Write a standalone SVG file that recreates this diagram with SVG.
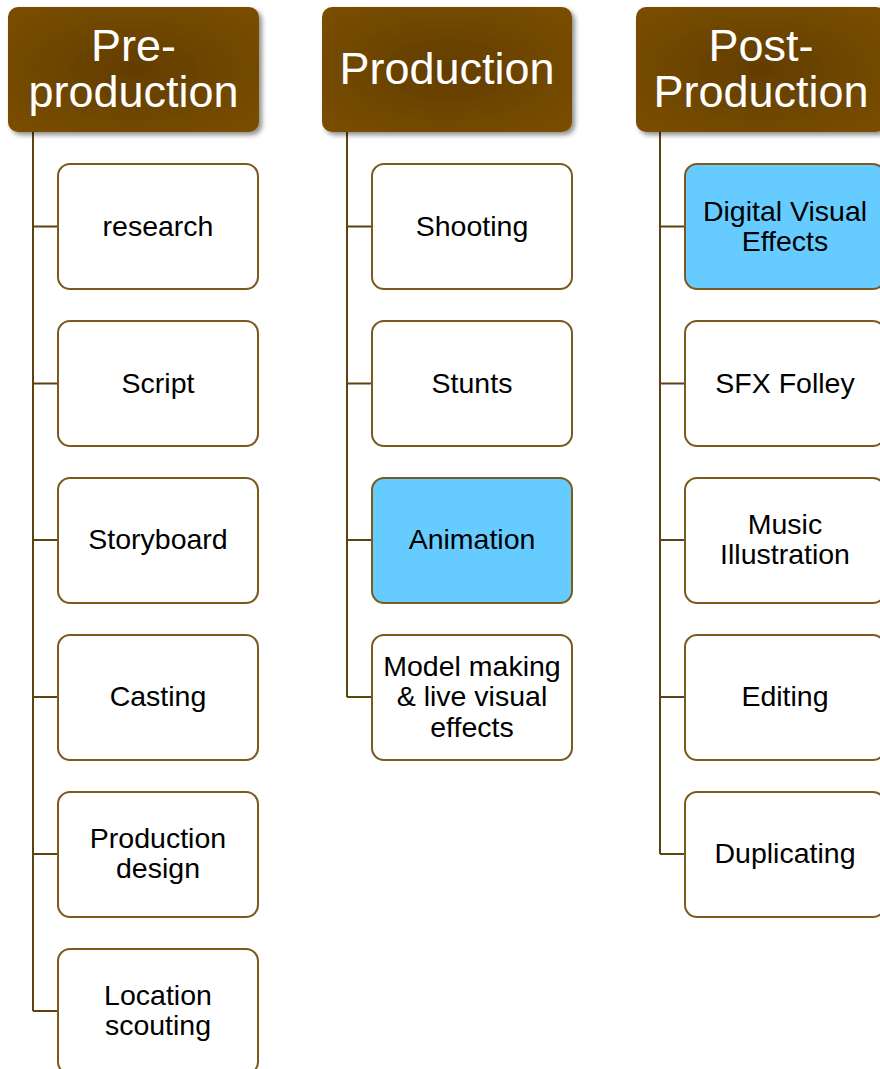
<svg xmlns="http://www.w3.org/2000/svg" width="880" height="1069" viewBox="0 0 880 1069">
  <defs>
    <radialGradient id="hdrFill" cx="0.5" cy="0.5" r="0.7">
      <stop offset="0" stop-color="#633d02"/>
      <stop offset="1" stop-color="#7b4f04"/>
    </radialGradient>
    <filter id="shadow" x="-10%" y="-10%" width="125%" height="130%">
      <feGaussianBlur in="SourceAlpha" stdDeviation="2.5"/>
      <feOffset dx="3" dy="3" result="b"/>
      <feComponentTransfer><feFuncA type="linear" slope="0.45"/></feComponentTransfer>
      <feMerge><feMergeNode/><feMergeNode in="SourceGraphic"/></feMerge>
    </filter>
    <style>
      .hdr { fill: url(#hdrFill); filter: url(#shadow); }
      .hdrText { font-family: "Liberation Sans", Arial, sans-serif; font-size: 45px; fill: #ffffff; text-anchor: middle; }
      .box { fill: #ffffff; stroke: #7a5a1e; stroke-width: 2; }
      .box.hi { fill: #66ccff; }
      .label { font-family: "Liberation Sans", Arial, sans-serif; font-size: 28.5px; fill: #000000; text-anchor: middle; }
      .conn { fill: none; stroke: #5e4212; stroke-width: 2; }
    </style>
  </defs>

  <rect width="880" height="1069" fill="#ffffff"/>

  <!-- connectors -->
  <g id="connectors">
    <path class="conn" d="M33,132 V1011 M33,226.5 H58 M33,383.5 H58 M33,540 H58 M33,697 H58 M33,854 H58 M33,1011 H58"/>
    <path class="conn" d="M347,132 V697 M347,226.5 H372 M347,383.5 H372 M347,540 H372 M347,697 H372"/>
    <path class="conn" d="M660,132 V854 M660,226.5 H685 M660,383.5 H685 M660,540 H685 M660,697 H685 M660,854 H685"/>
  </g>

  <!-- headers -->
  <g id="pre-production">
    <rect class="hdr" x="8" y="7" width="251" height="125" rx="10"/>
    <text class="hdrText" x="133.5" y="61">Pre-</text>
    <text class="hdrText" x="133.5" y="107">production</text>
  </g>
  <g id="production">
    <rect class="hdr" x="322" y="7" width="250" height="125" rx="10"/>
    <text class="hdrText" x="447" y="84">Production</text>
  </g>
  <g id="post-production">
    <rect class="hdr" x="636" y="7" width="250" height="125" rx="10"/>
    <text class="hdrText" x="761" y="61">Post-</text>
    <text class="hdrText" x="761" y="107">Production</text>
  </g>

  <!-- pre-production tasks -->
  <g id="research">
    <rect class="box" x="58" y="164" width="200" height="125" rx="12"/>
    <text class="label" x="158" y="236">research</text>
  </g>
  <g id="script">
    <rect class="box" x="58" y="321" width="200" height="125" rx="12"/>
    <text class="label" x="158" y="393">Script</text>
  </g>
  <g id="storyboard">
    <rect class="box" x="58" y="478" width="200" height="125" rx="12"/>
    <text class="label" x="158" y="549">Storyboard</text>
  </g>
  <g id="casting">
    <rect class="box" x="58" y="635" width="200" height="125" rx="12"/>
    <text class="label" x="158" y="706">Casting</text>
  </g>
  <g id="production-design">
    <rect class="box" x="58" y="792" width="200" height="125" rx="12"/>
    <text class="label" x="158" y="848">Production</text>
    <text class="label" x="158" y="878">design</text>
  </g>
  <g id="location-scouting">
    <rect class="box" x="58" y="949" width="200" height="125" rx="12"/>
    <text class="label" x="158" y="1005">Location</text>
    <text class="label" x="158" y="1035">scouting</text>
  </g>

  <!-- production tasks -->
  <g id="shooting">
    <rect class="box" x="372" y="164" width="200" height="125" rx="12"/>
    <text class="label" x="472" y="236">Shooting</text>
  </g>
  <g id="stunts">
    <rect class="box" x="372" y="321" width="200" height="125" rx="12"/>
    <text class="label" x="472" y="393">Stunts</text>
  </g>
  <g id="animation">
    <rect class="box hi" x="372" y="478" width="200" height="125" rx="12"/>
    <text class="label" x="472" y="549">Animation</text>
  </g>
  <g id="model-making">
    <rect class="box" x="372" y="635" width="200" height="125" rx="12"/>
    <text class="label" x="472" y="676">Model making</text>
    <text class="label" x="472" y="706">&amp; live visual</text>
    <text class="label" x="472" y="737">effects</text>
  </g>

  <!-- post-production tasks -->
  <g id="digital-visual-effects">
    <rect class="box hi" x="685" y="164" width="200" height="125" rx="12"/>
    <text class="label" x="785" y="221">Digital Visual</text>
    <text class="label" x="785" y="251">Effects</text>
  </g>
  <g id="sfx-folley">
    <rect class="box" x="685" y="321" width="200" height="125" rx="12"/>
    <text class="label" x="785" y="393">SFX Folley</text>
  </g>
  <g id="music-illustration">
    <rect class="box" x="685" y="478" width="200" height="125" rx="12"/>
    <text class="label" x="785" y="534">Music</text>
    <text class="label" x="785" y="564">Illustration</text>
  </g>
  <g id="editing">
    <rect class="box" x="685" y="635" width="200" height="125" rx="12"/>
    <text class="label" x="785" y="706">Editing</text>
  </g>
  <g id="duplicating">
    <rect class="box" x="685" y="792" width="200" height="125" rx="12"/>
    <text class="label" x="785" y="863">Duplicating</text>
  </g>
</svg>
